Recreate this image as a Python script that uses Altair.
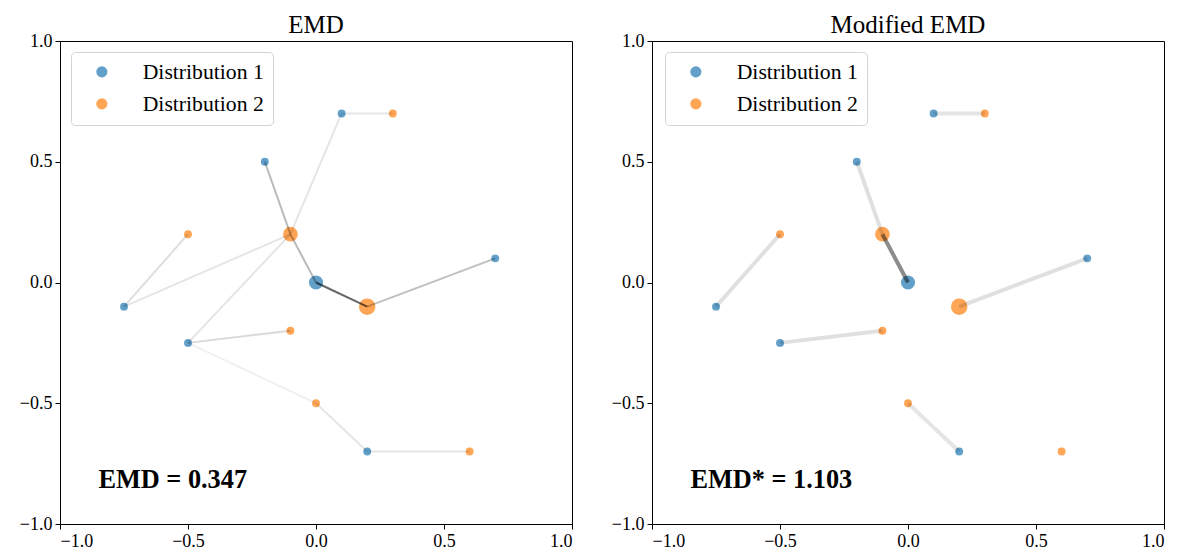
import altair as alt
import pandas as pd

FONT = "Liberation Serif"

# Distribution 1 (blue) points and masses
d1_x = [0.0, -0.2, 0.1, 0.7, -0.75, -0.5, 0.2]
d1_y = [0.0, 0.5, 0.7, 0.1, -0.1, -0.25, -0.7]
d1_m = [3.2, 1.0, 1.0, 1.0, 1.0, 1.0, 1.0]

# Distribution 2 (orange) points and masses
d2_x = [-0.1, 0.2, 0.3, -0.5, -0.1, 0.0, 0.6]
d2_y = [0.2, -0.1, 0.7, 0.2, -0.2, -0.5, -0.7]
d2_m = [3.5, 4.4, 1.0, 1.0, 1.0, 1.0, 1.0]

# Transport plan, EMD (index into d1, index into d2, flow)
emd_from = [2, 2, 1, 0, 0, 3, 4, 4, 5, 5, 5, 6, 6]
emd_to = [2, 0, 0, 0, 1, 1, 3, 0, 0, 4, 5, 5, 6]
emd_flow = [0.10, 0.10, 0.27, 0.27, 0.60, 0.25, 0.13, 0.10, 0.10, 0.15, 0.06, 0.10, 0.10]

# Transport plan, Modified EMD
mod_from = [2, 1, 0, 3, 4, 5, 6]
mod_to = [2, 0, 0, 1, 3, 4, 5]
mod_flow = [0.10, 0.12, 0.45, 0.12, 0.12, 0.12, 0.10]

titles = ["EMD", "Modified EMD"]
scores = ["EMD = 0.347", "EMD* = 1.103"]

series = ["Distribution 1", "Distribution 2"]
colors = ["#1f77b4", "#ff7f0e"]

pts = pd.DataFrame(
    {
        "x": d1_x + d2_x,
        "y": d1_y + d2_y,
        "size": [m * 62 for m in d1_m + d2_m],
        "dist": [series[0]] * len(d1_x) + [series[1]] * len(d2_x),
    }
)


def links(frm, to, flow):
    return pd.DataFrame(
        {
            "x": [d1_x[i] for i in frm],
            "y": [d1_y[i] for i in frm],
            "x2": [d2_x[j] for j in to],
            "y2": [d2_y[j] for j in to],
            "flow": flow,
        }
    )


tick_vals = [-1.0, -0.5, 0.0, 0.5, 1.0]
xs = alt.Scale(domain=[-1, 1], nice=False, zero=False)
ys = alt.Scale(domain=[-1, 1], nice=False, zero=False)
xax = alt.Axis(values=tick_vals, format=".1f", title=None)
yax = alt.Axis(values=tick_vals, format=".1f", title=None)


def panel(title, score, link_df, lw, lx):
    points = (
        alt.Chart(pts)
        .mark_circle(opacity=0.7)
        .encode(
            x=alt.X("x:Q", scale=xs, axis=xax),
            y=alt.Y("y:Q", scale=ys, axis=yax),
            size=alt.Size("size:Q", scale=None, legend=None),
            color=alt.Color(
                "dist:N",
                scale=alt.Scale(domain=series, range=colors),
                legend=alt.Legend(
                    title=None,
                    orient="none",
                    legendX=lx,
                    legendY=11,
                    labelFont=FONT,
                    labelFontSize=21.7,
                    labelColor="black",
                    symbolType="circle",
                    symbolSize=125,
                    symbolOpacity=0.7,
                    symbolStrokeWidth=0,
                    symbolOffset=11,
                    labelOffset=30,
                    rowPadding=9,
                    padding=9,
                    strokeColor="#d4d4d4",
                    fillColor="white",
                    cornerRadius=4,
                ),
            ),
        )
    )
    rules = (
        alt.Chart(link_df)
        .mark_rule(color="black", strokeWidth=lw)
        .encode(
            x=alt.X("x:Q", scale=xs),
            y=alt.Y("y:Q", scale=ys),
            x2="x2:Q",
            y2="y2:Q",
            opacity=alt.Opacity("flow:Q", scale=None, legend=None),
        )
    )
    label = (
        alt.Chart(pd.DataFrame({"x": [-0.85], "y": [-0.852], "t": [score]}))
        .mark_text(
            align="left",
            baseline="alphabetic",
            font=FONT,
            fontSize=26.3,
            fontWeight="bold",
            color="black",
        )
        .encode(x=alt.X("x:Q", scale=xs), y=alt.Y("y:Q", scale=ys), text="t:N")
    )
    return alt.layer(points, rules, label).properties(
        width=512,
        height=483,
        title=alt.TitleParams(
            title,
            font=FONT,
            fontSize=25,
            fontWeight="normal",
            color="black",
            offset=-6,
        ),
    )


left = panel(titles[0], scores[0], links(emd_from, emd_to, emd_flow), 2, 11)
right = panel(titles[1], scores[1], links(mod_from, mod_to, mod_flow), 4, 13)

chart = (
    alt.hconcat(left, right, spacing=37)
    .resolve_scale(color="independent")
    .resolve_legend(color="independent")
    .properties(padding={"left": 18, "top": 12, "right": 5, "bottom": 5}, background="white")
    .configure_view(stroke="black", strokeWidth=1)
    .configure_axis(
        grid=False,
        labelFont=FONT,
        labelFontSize=18,
        labelColor="black",
        tickColor="black",
        domainColor="black",
        tickSize=5,
        labelPadding=3,
    )
)

chart.save("out.html", embed_options={"renderer": "svg", "actions": False})
